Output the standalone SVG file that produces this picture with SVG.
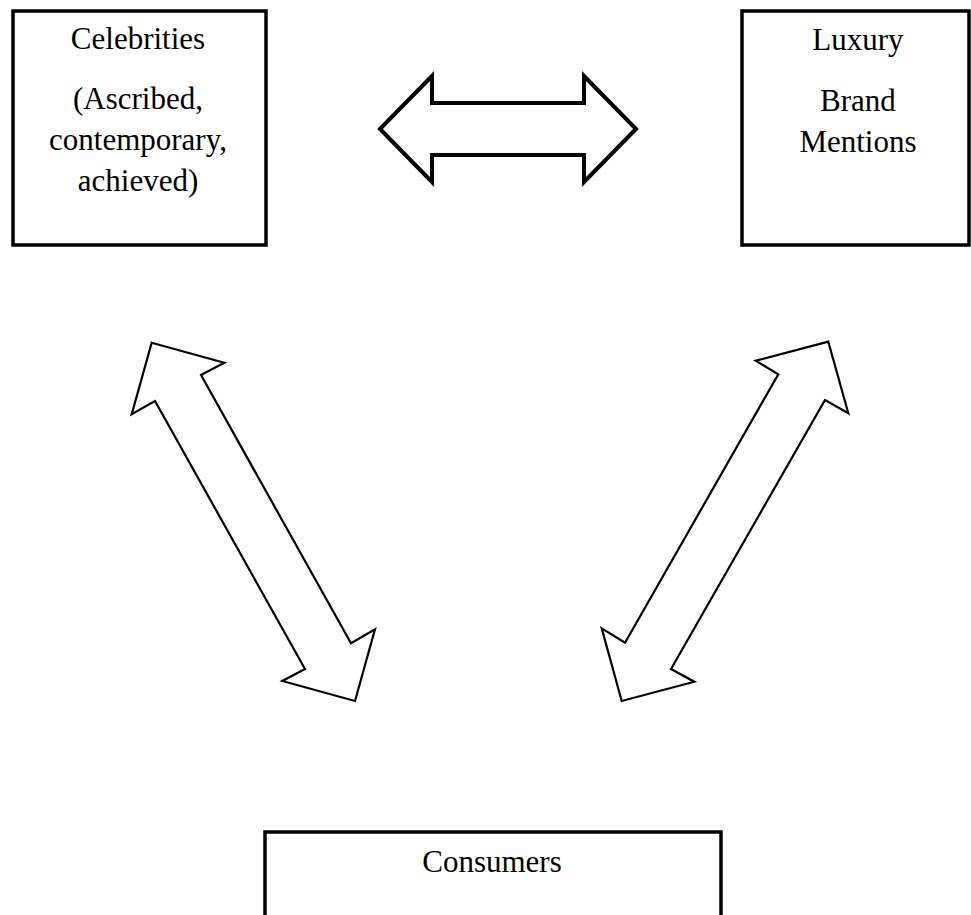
<svg xmlns="http://www.w3.org/2000/svg" width="971" height="915" viewBox="0 0 971 915">
<style>
.box{fill:#fff;stroke:#000;stroke-width:3.5}
.t{font-family:"Liberation Serif","Times New Roman",serif;font-size:31px;fill:#000;text-anchor:middle}
.arr{fill:#fff;stroke:#000;stroke-linejoin:miter}
</style>
<rect width="971" height="915" fill="#fff"/>
<g id="celebrities">
<rect class="box" x="13" y="11" width="253" height="234"/>
<text class="t" x="138" y="49">Celebrities</text>
<text class="t" x="138" y="109">(Ascribed,</text>
<text class="t" x="138" y="150">contemporary,</text>
<text class="t" x="138" y="191">achieved)</text>
</g>
<g id="luxury">
<rect class="box" x="742" y="11" width="227" height="234"/>
<text class="t" x="858" y="50">Luxury</text>
<text class="t" x="858" y="111">Brand</text>
<text class="t" x="858" y="152">Mentions</text>
</g>
<g id="consumers">
<rect class="box" x="265" y="832" width="456" height="86"/>
<text class="t" x="492" y="872">Consumers</text>
</g>
<g id="connectors">
<polygon class="arr" stroke-width="4" points="380,129 432,76 432,103 584,103 584,76 636,129 584,182 584,155 432,155 432,182"/>
<polygon class="arr" stroke-width="2.2" points="151.7,342.7 224.3,362.7 201,375 351,643.3 375,629.3 355,701 282.3,681 305,669 155,401 131.7,414.3"/>
<polygon class="arr" stroke-width="2.2" points="828.3,341.7 848.3,413.3 825,400 671,669 694.3,681.7 621.7,701 601.7,628.3 625,642.7 778.3,374.3 755.7,360.7"/>
</g>
</svg>
